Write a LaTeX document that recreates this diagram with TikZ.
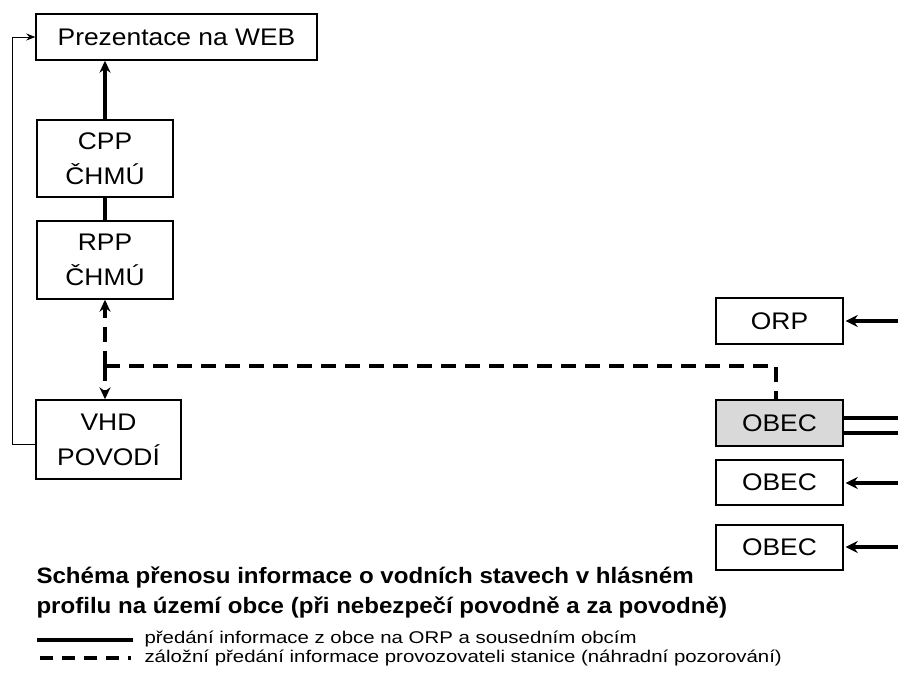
\documentclass[tikz,border=0pt]{standalone}
\usepackage{fontspec}
\setmainfont{Liberation Sans}
\newfontfamily\widefont[FakeStretch=1.2]{Liberation Sans}
\newfontfamily\boxfont[FakeStretch=1.1]{Liberation Sans}
\newfontfamily\titlefont[FakeStretch=1.08]{Liberation Sans}
\usetikzlibrary{arrows.meta}
\tikzstyle{box}=[draw, line width=1.4pt, inner sep=0pt, align=center, font=\boxfont\fontsize{24}{35}\selectfont]
\tikzstyle{feed}=[line width=4pt, -{Stealth[length=12pt,width=12pt]}, shorten >=2pt]
\tikzstyle{backup}=[line width=4pt, dash pattern=on 15pt off 9pt]

\begin{document}
\begin{tikzpicture}[x=1pt,y=-1pt]
\useasboundingbox (0,0) rectangle (898,677);
% boxes
\node[box, minimum width=281pt, minimum height=46pt] (web) at (176.5,37) {Prezentace na WEB};
\node[box, minimum width=136pt, minimum height=77pt] (cpp) at (105,158.5) {CPP\\ČHMÚ};
\node[box, minimum width=136pt, minimum height=78pt] (rpp) at (105,260) {RPP\\ČHMÚ};
\node[box, minimum width=145pt, minimum height=79pt] (vhd) at (108.5,439.5) {VHD\\POVODÍ};
\node[box, minimum width=127pt, minimum height=46pt] (orp) at (779.5,321) {ORP};
\node[box, fill=gray!30, minimum width=127pt, minimum height=46pt] (obecA) at (779.5,423) {OBEC};
\node[box, minimum width=127pt, minimum height=45pt] (obecB) at (779.5,482.5) {OBEC};
\node[box, minimum width=127pt, minimum height=45pt] (obecC) at (779.5,547.5) {OBEC};
% free ends at the right border
\foreach \n/\y in {r1/321,r2/483,r3/547,s1/418,s2/433} {
	\coordinate (\n) at (898,\y);
}
\coordinate (split) at (105,366);
\coordinate (turn) at (776,366);
\coordinate (side) at (12,444);
% links
\draw[line width=3.4pt, -{Stealth[length=12pt,width=11pt]}] (cpp.north) -- (cpp.north |- web.south);
\draw[line width=3.4pt] (cpp) -- (rpp);
\draw[line width=0.8pt, -{Stealth[length=9pt,width=7pt]}] (vhd.west |- side) -- (side) |- (web.west);
\draw[backup, -{Stealth[length=12pt,width=11pt]}] (split) -- (rpp.south);
\draw[backup, -{Stealth[length=12pt,width=11pt]}] (split) -- (split |- vhd.north);
\draw[backup] (split) -- (turn) -- (turn |- obecA.north);
\draw[feed] (r1) -- (orp);
\draw[feed] (r2) -- (obecB.east |- r2);
\draw[feed] (r3) -- (obecC.east |- r3);
\draw[line width=4pt] (s1) -- (obecA.east |- s1);
\draw[line width=4pt] (s2) -- (obecA.east |- s2);
% title and legend
\node[anchor=west, align=left, font=\titlefont\bfseries\fontsize{22.3}{30}\selectfont] (title) at (33,592) {Schéma přenosu informace o vodních stavech v hlásném\\profilu na území obce (při nebezpečí povodně a za povodně)};
\node[anchor=west, font=\widefont\fontsize{17}{20}\selectfont] (legA) at (141,639) {předání informace z obce na ORP a sousedním obcím};
\node[anchor=west, font=\widefont\fontsize{17}{20}\selectfont] (legB) at (141,658) {záložní předání informace provozovateli stanice (náhradní pozorování)};
\coordinate (la) at (37,640);
\coordinate (lb) at (40,658);
\draw[line width=4pt] (la) -- ([xshift=-8pt]legA.west |- la);
\draw[line width=4pt, dash pattern=on 13pt off 9pt] (lb) -- ([xshift=-10pt]legB.west);
\end{tikzpicture}
\end{document}
